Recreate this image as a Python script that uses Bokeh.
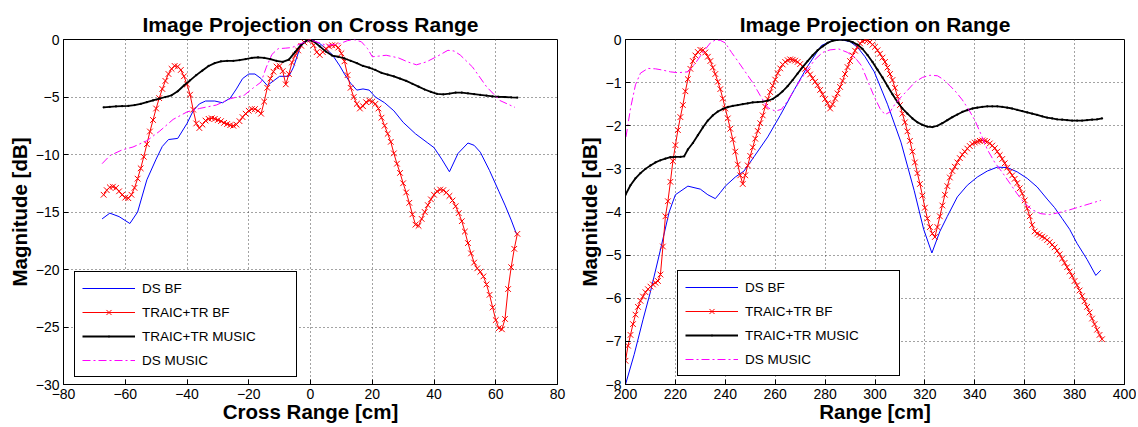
from bokeh.plotting import figure
from bokeh.layouts import row
from bokeh.models import FixedTicker, Legend, LegendItem, Range1d
from bokeh.embed import file_html
from bokeh.resources import INLINE

# ---------------- data: left panel (cross range) ----------------
cr_blue_x = [-67.5, -65, -62, -58.5, -56, -53, -50, -48, -46, -43, -40, -38, -36, -34, -31, -28.5,
             -26, -24, -22, -20, -18, -16, -14, -12, -10, -7, -5.5, -3.5, -2, 0, 3, 5, 7, 9.5, 11,
             13, 15, 17, 19, 21, 24, 27, 30, 34, 38, 40, 42.5, 45, 47.8, 51, 53, 55, 58, 61, 63, 65, 66.7]
cr_blue_y = [-15.6, -15.1, -15.4, -16.0, -15.0, -12.2, -10.4, -9.3, -8.7, -8.6, -7.3, -6.2, -5.6, -5.35,
             -5.35, -5.5, -5.1, -4.3, -3.4, -3.0, -3.0, -3.4, -4.0, -3.6, -3.2, -3.2, -2.4, -0.8, -0.2, 0.0,
             -0.35, -0.8, -1.3, -2.3, -3.0, -3.8, -4.4, -4.3, -4.4, -5.0, -5.5, -6.2, -7.2, -8.2, -9.0, -9.4,
             -10.4, -11.5, -9.9, -9.0, -9.2, -9.8, -11.4, -13.2, -14.4, -15.7, -16.9]

cr_red_start = -67
cr_red_y = [-13.5, -13.1, -12.85, -12.8, -12.9, -13.2, -13.5, -13.75, -13.8, -13.5,
            -12.9, -12.1, -11.2, -10.2, -9.1, -8.0, -7.0, -6.0, -5.1, -4.3,
            -3.6, -3.0, -2.55, -2.3, -2.35, -2.65, -3.2, -3.9, -4.8, -6.1,
            -7.3, -7.7, -7.4, -7.05, -6.9, -6.85, -6.9, -7.0, -7.1, -7.25,
            -7.35, -7.45, -7.5, -7.4, -7.1, -6.75, -6.45, -6.2, -6.05, -6.05,
            -6.2, -6.45, -5.4, -4.2, -3.4, -2.8, -2.35, -2.3, -2.75, -3.9,
            -3.0, -2.0, -1.4, -0.95, -0.55, -0.25, -0.05, 0.0, -0.5, -1.1,
            -1.35, -1.1, -0.8, -0.6, -0.5, -0.5, -0.7, -1.2, -1.9, -3.1,
            -4.2, -5.0, -5.6, -6.0, -5.8, -5.45, -5.3, -5.4, -5.6, -6.0,
            -6.8, -7.5, -8.2, -8.9, -9.9, -10.8, -11.6, -12.5, -13.3, -14.2,
            -15.2, -16.1, -16.2, -15.6, -15.0, -14.4, -13.9, -13.5, -13.2, -13.05,
            -13.1, -13.3, -13.6, -14.0, -14.5, -15.1, -15.8, -16.7, -17.7, -18.6,
            -19.4, -19.9, -20.2, -20.6, -21.3, -22.2, -23.3, -24.4, -25.1, -25.2,
            -24.3, -21.7, -19.8, -18.2, -16.9]

cr_black_x = [-67, -65, -63, -61, -59, -57, -55, -53, -51, -49, -47, -45, -43, -41, -39, -37, -35, -33,
              -31, -29, -27, -25, -23, -21, -19, -17, -15, -13, -11, -9, -7, -5, -3, -1, 1, 3, 5, 7, 9,
              11, 13, 15, 17, 19, 21, 23, 25, 27, 29, 31, 33, 35, 37, 39, 41, 43, 45, 47, 49, 51, 53,
              55, 57, 59, 61, 63, 65, 67]
cr_black_y = [-5.9, -5.85, -5.82, -5.8, -5.78, -5.7, -5.6, -5.45, -5.3, -5.15, -5.0, -4.85, -4.5, -4.0,
              -3.55, -3.1, -2.7, -2.3, -2.05, -1.9, -1.85, -1.85, -1.8, -1.7, -1.6, -1.55, -1.6, -1.7,
              -1.85, -1.95, -1.75, -1.1, -0.45, -0.05, -0.15, -0.6, -1.05, -1.4, -1.5, -1.65, -1.85,
              -2.05, -2.3, -2.45, -2.65, -2.9, -3.05, -3.2, -3.4, -3.6, -3.85, -4.1, -4.35, -4.55,
              -4.72, -4.77, -4.7, -4.62, -4.62, -4.68, -4.75, -4.82, -4.88, -4.94, -4.98, -5.0, -5.03, -5.05]

cr_mag_x = [-67.5, -65, -61, -57.5, -53, -49, -44.5, -40, -36, -30.5, -26, -21.5, -18.5, -16, -14.3,
            -12.5, -10.5, -8, -6, -3.5, 0, 3, 5, 7.5, 9.5, 12, 14, 16.5, 18.5, 20, 22, 24.5, 28.5, 31.5,
            34.3, 37.5, 40.8, 44.5, 46.5, 48.5, 52.5, 57, 61.3, 66.2]
cr_mag_y = [-10.8, -10.1, -9.6, -9.35, -8.8, -8.0, -6.95, -6.3, -6.0, -5.7, -5.15, -4.85, -4.2, -3.7,
            -2.4, -1.3, -0.8, -0.75, -0.7, -0.4, -0.05, -0.3, -0.5, -0.45, -0.36, -0.1, 0.0, -0.2, -0.8,
            -1.5, -1.45, -1.37, -1.6, -1.95, -2.2, -1.95, -1.5, -0.94, -1.0, -1.35, -2.4, -4.1, -5.3, -5.9]

# ---------------- data: right panel (range) ----------------
r_blue_x = [200, 203.5, 207, 210, 213.5, 217.5, 220, 225, 230, 233, 236, 238, 240, 244, 247.5, 251.5,
            257, 262, 267.5, 273, 278.5, 283, 286, 290, 293, 296, 299.7, 305, 310.4, 315.7, 319.5,
            322.8, 326, 329, 333, 337, 341, 345, 349, 353, 357, 361, 365, 369, 372, 375, 378, 381,
            385, 388.5, 390.5]
r_blue_y = [-8.0, -7.3, -6.5, -5.85, -5.0, -4.0, -3.6, -3.4, -3.47, -3.6, -3.69, -3.55, -3.4, -3.19,
            -3.05, -2.72, -2.26, -1.76, -1.18, -0.62, -0.14, -0.02, 0.0, -0.05, -0.18, -0.4, -0.75,
            -1.5, -2.38, -3.5, -4.4, -4.95, -4.45, -4.1, -3.65, -3.38, -3.19, -3.05, -2.96, -2.97,
            -3.07, -3.22, -3.42, -3.7, -3.9, -4.15, -4.4, -4.73, -5.1, -5.47, -5.35]

r_red_start = 200
r_red_y = [-7.45, -7.10, -6.85, -6.60, -6.38, -6.20, -6.06, -5.96, -5.86, -5.79,
           -5.73, -5.68, -5.64, -5.60, -5.45, -4.80, -4.10, -3.75, -3.30, -2.82,
           -2.45, -2.10, -1.80, -1.52, -1.20, -0.92, -0.68, -0.50, -0.37, -0.29,
           -0.24, -0.25, -0.30, -0.40, -0.50, -0.65, -0.80, -0.98, -1.15, -1.37,
           -1.60, -1.83, -2.07, -2.32, -2.60, -2.90, -3.15, -3.35, -3.15, -2.92,
           -2.70, -2.50, -2.30, -2.12, -1.94, -1.76, -1.56, -1.38, -1.22, -1.07,
           -0.93, -0.78, -0.67, -0.58, -0.52, -0.48, -0.46, -0.47, -0.49, -0.52,
           -0.57, -0.62, -0.68, -0.74, -0.81, -0.90, -0.98, -1.06, -1.17, -1.27,
           -1.38, -1.48, -1.60, -1.50, -1.37, -1.25, -1.10, -0.96, -0.80, -0.64,
           -0.50, -0.37, -0.26, -0.17, -0.09, -0.04, -0.01, -0.02, -0.06, -0.12,
           -0.17, -0.25, -0.33, -0.42, -0.52, -0.65, -0.80, -0.94, -1.12, -1.32,
           -1.52, -1.72, -1.92, -2.13, -2.35, -2.60, -2.85, -3.10, -3.35, -3.62,
           -3.90, -4.15, -4.35, -4.50, -4.58, -4.35, -4.10, -3.85, -3.60, -3.40,
           -3.20, -3.05, -2.95, -2.85, -2.75, -2.67, -2.60, -2.53, -2.47, -2.42,
           -2.39, -2.37, -2.35, -2.34, -2.35, -2.37, -2.41, -2.46, -2.52, -2.60,
           -2.68, -2.77, -2.87, -2.97, -3.07, -3.15, -3.23, -3.33, -3.45, -3.57,
           -3.73, -3.92, -4.10, -4.30, -4.45, -4.50, -4.53, -4.57, -4.60, -4.65,
           -4.70, -4.76, -4.82, -4.90, -4.98, -5.08, -5.18, -5.28, -5.38, -5.48,
           -5.60, -5.70, -5.82, -5.95, -6.07, -6.20, -6.33, -6.47, -6.60, -6.73,
           -6.85, -6.95]

r_black_x = [200, 202, 204, 206, 208, 210, 212, 214, 216, 218, 220, 222, 223.5, 225, 227, 229, 231,
             233, 235, 237, 239, 241, 243, 245, 247, 249, 251, 253, 255, 257, 259, 261, 263, 265, 267,
             269, 271, 273, 275, 277, 279, 281, 283, 285, 287, 289, 291, 293, 295, 297, 299, 301, 303,
             305, 307, 309, 311, 313, 315, 317, 319, 321, 323, 325, 327, 329, 331, 333, 335, 337, 339,
             341, 343, 345, 347, 349, 351, 353, 355, 357, 359, 361, 363, 365, 367, 369, 371, 373, 375,
             377, 379, 381, 383, 385, 387, 389, 391]
r_black_y = [-3.6, -3.38, -3.22, -3.1, -3.0, -2.92, -2.85, -2.8, -2.76, -2.73, -2.72, -2.72, -2.71,
             -2.55, -2.4, -2.22, -2.04, -1.88, -1.76, -1.67, -1.61, -1.57, -1.54, -1.52, -1.5, -1.48,
             -1.46, -1.45, -1.44, -1.42, -1.38, -1.3, -1.2, -1.08, -0.94, -0.79, -0.64, -0.5, -0.37,
             -0.25, -0.16, -0.08, -0.03, -0.01, 0.0, -0.02, -0.06, -0.12, -0.22, -0.36, -0.52, -0.7,
             -0.88, -1.08, -1.27, -1.45, -1.6, -1.72, -1.83, -1.92, -1.98, -2.02, -2.03, -2.0, -1.94,
             -1.87, -1.8, -1.74, -1.68, -1.64, -1.6, -1.58, -1.56, -1.55, -1.55, -1.55, -1.56, -1.58,
             -1.6, -1.63, -1.66, -1.69, -1.72, -1.75, -1.78, -1.81, -1.83, -1.85, -1.86, -1.87, -1.88,
             -1.88, -1.88, -1.87, -1.86, -1.85, -1.83]

r_mag_x = [200.2, 202, 204, 206, 209, 212, 215, 218, 221, 225, 228, 231, 234, 236, 238, 240, 242.5, 245,
           248, 251, 254, 257, 260, 262.5, 265, 267.5, 270, 273, 276, 279, 282, 285.5, 289, 292, 294.5,
           297, 299.5, 302, 304, 306, 308, 310.5, 313, 316, 319, 322, 325, 327.5, 330, 332.5, 335,
           337.5, 340, 342.5, 345, 348, 351, 354, 357, 360, 363, 366.5, 370, 374, 378, 382, 386, 390.5]
r_mag_y = [-2.26, -1.6, -1.05, -0.78, -0.67, -0.68, -0.71, -0.75, -0.77, -0.75, -0.55, -0.3, -0.08,
           -0.01, -0.02, -0.08, -0.3, -0.5, -0.75, -1.0, -1.3, -1.58, -1.66, -1.62, -1.42, -1.18, -0.95,
           -0.7, -0.46, -0.3, -0.24, -0.22, -0.3, -0.42, -0.6, -0.95, -1.3, -1.6, -1.74, -1.68, -1.5,
           -1.33, -1.18, -0.99, -0.88, -0.83, -0.84, -0.93, -1.07, -1.22, -1.4, -1.62, -1.87, -2.2,
           -2.55, -2.85, -3.08, -3.33, -3.58, -3.8, -3.95, -4.04, -4.06, -4.01, -3.95, -3.88, -3.81, -3.73]

# ---------------- labels / ticks ----------------
series_names = ["DS BF", "TRAIC+TR BF", "TRAIC+TR MUSIC", "DS MUSIC"]
cr_xticks = [-80, -60, -40, -20, 0, 20, 40, 60, 80]
cr_yticks = [-30, -25, -20, -15, -10, -5, 0]
r_xticks = [200, 220, 240, 260, 280, 300, 320, 340, 360, 380, 400]
r_yticks = [-8, -7, -6, -5, -4, -3, -2, -1, 0]

FONT = "Liberation Sans"
MINUS = "\u2212"


def fmt(v):
    return MINUS + str(abs(v)) if v < 0 else str(v)


def build(title, xr, yr, xticks, yticks, xlabel, fw, fh, bl, br):
    p = figure(title=title, x_range=Range1d(*xr), y_range=Range1d(*yr),
               frame_width=fw, frame_height=fh,
               min_border_left=bl, min_border_right=br, min_border_top=39, min_border_bottom=42,
               output_backend="svg", toolbar_location=None)
    p.title.text_font = FONT
    p.title.text_font_size = "21px"
    p.title.text_font_style = "bold"
    p.title.text_color = "#000000"
    p.title.align = "center"
    p.title.standoff = 8
    p.outline_line_color = "#000000"
    p.outline_line_alpha = 1.0
    p.outline_line_width = 1
    p.background_fill_color = "#ffffff"
    p.border_fill_color = "#ffffff"

    p.xaxis.ticker = FixedTicker(ticks=xticks)
    p.yaxis.ticker = FixedTicker(ticks=yticks)
    p.xaxis.major_label_overrides = {t: fmt(t) for t in xticks}
    p.yaxis.major_label_overrides = {t: fmt(t) for t in yticks}
    for ax in (p.xaxis[0], p.yaxis[0]):
        ax.axis_line_color = "#000000"
        ax.major_tick_line_color = "#000000"
        ax.major_tick_in = 5
        ax.major_tick_out = 0
        ax.minor_tick_line_color = None
        ax.major_label_text_font = FONT
        ax.major_label_text_font_size = "14px"
        ax.major_label_text_color = "#000000"
        ax.axis_label_text_font = FONT
        ax.axis_label_text_font_size = "20.5px"
        ax.axis_label_text_font_style = "bold"
        ax.axis_label_text_color = "#000000"
    p.xaxis.axis_label = xlabel
    p.yaxis.axis_label = "Magnitude [dB]"
    p.xaxis.major_label_standoff = 4
    p.xaxis.axis_label_standoff = -2
    p.yaxis.major_label_standoff = 4
    p.yaxis.axis_label_standoff = 2

    for g in (p.xgrid[0], p.ygrid[0]):
        g.grid_line_color = "#333333"
        g.grid_line_dash = "1 3"
        g.grid_line_width = 1
        g.grid_line_alpha = 0.9
    return p


def add_series(p, bx, by, rx, ry, kx, ky, mx, my, loc):
    b = p.line(bx, by, line_color="#0000ff", line_width=1)
    rl = p.line(rx, ry, line_color="#ff0000", line_width=1)
    rs = p.scatter(rx, ry, marker="x", size=8, line_color="#ff0000", line_width=1)
    kl = p.line(kx, ky, line_color="#000000", line_width=1.8)
    ks = p.scatter(kx, ky, marker="dot", size=9, line_color="#000000", fill_color="#000000")
    m = p.line(mx, my, line_color="#ff00ff", line_width=1, line_dash="8 3 2 3")
    leg = Legend(items=[LegendItem(label=series_names[0], renderers=[b]),
                        LegendItem(label=series_names[1], renderers=[rl, rs]),
                        LegendItem(label=series_names[2], renderers=[kl, ks]),
                        LegendItem(label=series_names[3], renderers=[m])],
                 location=loc, margin=0, padding=7, spacing=6,
                 glyph_width=53, glyph_height=18, label_height=18, label_width=147,
                 label_standoff=7, label_text_font=FONT, label_text_font_size="13.5px",
                 label_text_color="#000000",
                 border_line_color="#000000", border_line_width=1, border_line_alpha=1.0,
                 background_fill_color="#ffffff", background_fill_alpha=1.0)
    p.add_layout(leg)


cr_red_x = [cr_red_start + i for i in range(len(cr_red_y))]
r_red_x = [r_red_start + i for i in range(len(r_red_y))]

p1 = build("Image Projection on Cross Range", (-80, 80), (-30, 0), cr_xticks, cr_yticks,
           "Cross Range [cm]", 494, 345, 63, 15)
add_series(p1, cr_blue_x, cr_blue_y, cr_red_x, cr_red_y, cr_black_x, cr_black_y, cr_mag_x, cr_mag_y, (11, 7))

p2 = build("Image Projection on Range", (200, 400), (-8, 0), r_xticks, r_yticks,
           "Range [cm]", 499, 345, 53, 12)
add_series(p2, r_blue_x, r_blue_y, r_red_x, r_red_y, r_black_x, r_black_y, r_mag_x, r_mag_y, (52, 8))

layout = row(p1, p2)
open("out.html", "w").write(file_html(layout, INLINE))
